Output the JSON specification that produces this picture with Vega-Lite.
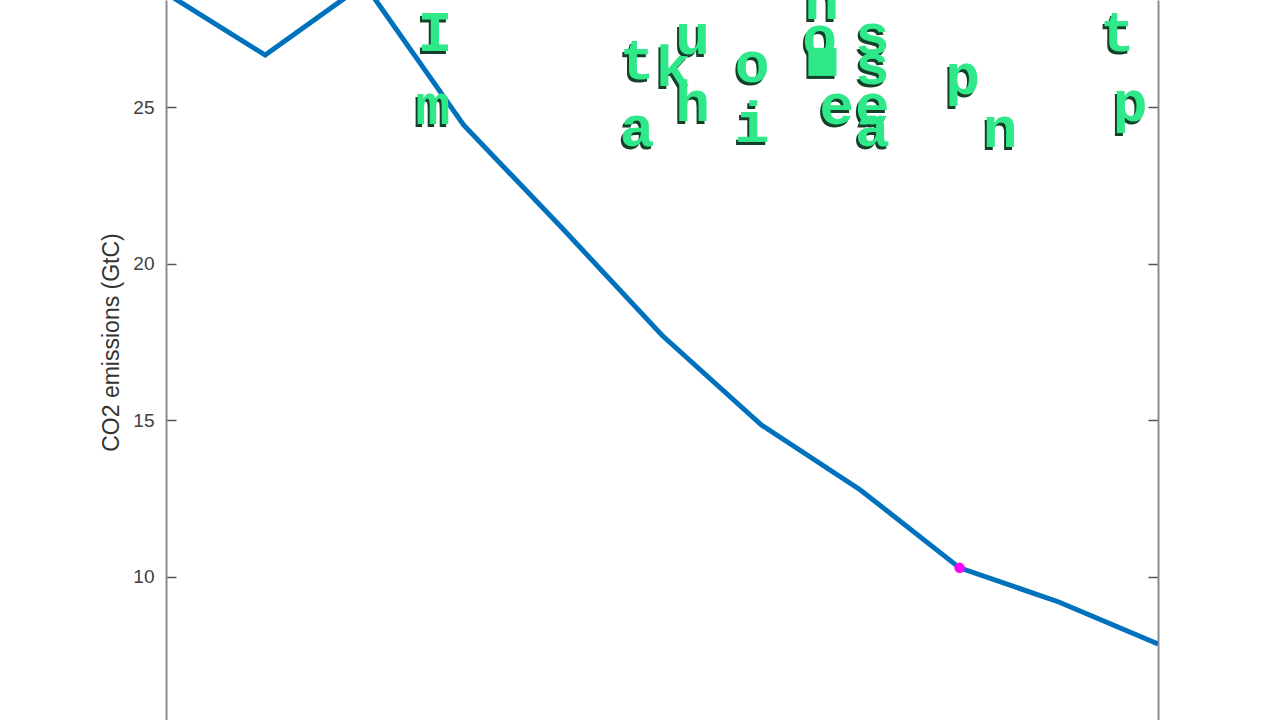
{
  "$schema": "https://vega.github.io/schema/vega-lite/v6.json",
  "autosize": "none",
  "width": 992,
  "height": 720,
  "padding": {"left": 166, "top": 0, "right": 122, "bottom": 0},
  "background": "white",
  "config": {"view": {"stroke": null}},
  "datasets": {
    "emissions": [
      {"step": 0, "co2": 28.65},
      {"step": 1, "co2": 26.67},
      {"step": 2, "co2": 28.94},
      {"step": 3, "co2": 24.44},
      {"step": 4, "co2": 21.12},
      {"step": 5, "co2": 17.72},
      {"step": 6, "co2": 14.86},
      {"step": 7, "co2": 12.78},
      {"step": 8, "co2": 10.29},
      {"step": 9, "co2": 9.2},
      {"step": 10, "co2": 7.86}
    ],
    "letters": [
      {"ch": "I", "step": 2.71, "co2": 27.25},
      {"ch": "m", "step": 2.69, "co2": 24.92},
      {"ch": "n", "step": 6.61, "co2": 28.27},
      {"ch": "u", "step": 5.31, "co2": 27.15},
      {"ch": "o", "step": 6.59, "co2": 27.09},
      {"ch": "s", "step": 7.12, "co2": 27.15},
      {"ch": "t", "step": 4.75, "co2": 26.35},
      {"ch": "k", "step": 5.11, "co2": 26.13},
      {"ch": "o", "step": 5.91, "co2": 26.26},
      {"ch": "■", "step": 6.62, "co2": 26.35},
      {"ch": "s", "step": 7.12, "co2": 26.19},
      {"ch": "h", "step": 5.31, "co2": 25.01},
      {"ch": "e", "step": 6.76, "co2": 24.92},
      {"ch": "e", "step": 7.12, "co2": 24.92},
      {"ch": "a", "step": 4.75, "co2": 24.21},
      {"ch": "i", "step": 5.91, "co2": 24.34},
      {"ch": "a", "step": 7.12, "co2": 24.21},
      {"ch": "p", "step": 8.03, "co2": 25.87},
      {"ch": "n", "step": 8.41, "co2": 24.18},
      {"ch": "t", "step": 9.59, "co2": 27.25},
      {"ch": "p", "step": 9.72, "co2": 25.01}
    ]
  },
  "encoding": {
    "x": {
      "field": "step",
      "type": "quantitative",
      "scale": {"domain": [0, 10], "nice": false, "zero": false},
      "axis": null
    },
    "y": {
      "field": "co2",
      "type": "quantitative",
      "scale": {"domain": [5.43, 28.43], "nice": false, "zero": false},
      "axis": null
    }
  },
  "layer": [
    {
      "data": {"name": "emissions"},
      "mark": {"type": "line", "color": "#0072BD", "strokeWidth": 5, "clip": true},
      "encoding": {
        "y": {
          "field": "co2",
          "type": "quantitative",
          "scale": {"domain": [5.43, 28.43], "nice": false, "zero": false},
          "axis": {
            "orient": "left",
            "values": [10, 15, 20, 25],
            "grid": false,
            "domainColor": "#8c8c8c",
            "domainWidth": 2,
            "tickColor": "#555555",
            "tickWidth": 1.5,
            "tickSize": -10,
            "labelFont": "Liberation Sans",
            "labelFontSize": 19,
            "labelColor": "#404040",
            "labelPadding": 22,
            "title": "CO2 emissions (GtC)",
            "titleFont": "Liberation Sans",
            "titleFontSize": 23,
            "titleFontWeight": "normal",
            "titleColor": "#333333",
            "titleAngle": -90,
            "titleX": -55,
            "titleY": 342,
            "titleAlign": "center",
            "titleBaseline": "middle"
          }
        }
      }
    },
    {
      "data": {"name": "emissions"},
      "transform": [{"filter": "datum.step == 8"}],
      "mark": {"type": "point", "filled": true, "shape": "circle", "color": "#ff00ff", "size": 110, "opacity": 1},
      "encoding": {
        "y": {
          "field": "co2",
          "type": "quantitative",
          "scale": {"domain": [5.43, 28.43], "nice": false, "zero": false},
          "axis": {
            "orient": "right",
            "values": [10, 15, 20, 25],
            "grid": false,
            "labels": false,
            "title": null,
            "domainColor": "#8c8c8c",
            "domainWidth": 2,
            "tickColor": "#555555",
            "tickWidth": 1.5,
            "tickSize": -10
          }
        }
      }
    },
    {
      "data": {"name": "letters"},
      "mark": {"type": "text", "font": "Liberation Mono", "fontWeight": "bold", "fontSize": 58, "align": "center", "baseline": "middle", "dx": -2, "dy": 0, "color": "#14402a"},
      "encoding": {"text": {"field": "ch"}}
    },
    {
      "data": {"name": "letters"},
      "mark": {"type": "text", "font": "Liberation Mono", "fontWeight": "bold", "fontSize": 58, "align": "center", "baseline": "middle", "dy": -3, "color": "#2ee88a"},
      "encoding": {"text": {"field": "ch"}}
    }
  ],
  "resolve": {"axis": {"y": "independent"}}
}
